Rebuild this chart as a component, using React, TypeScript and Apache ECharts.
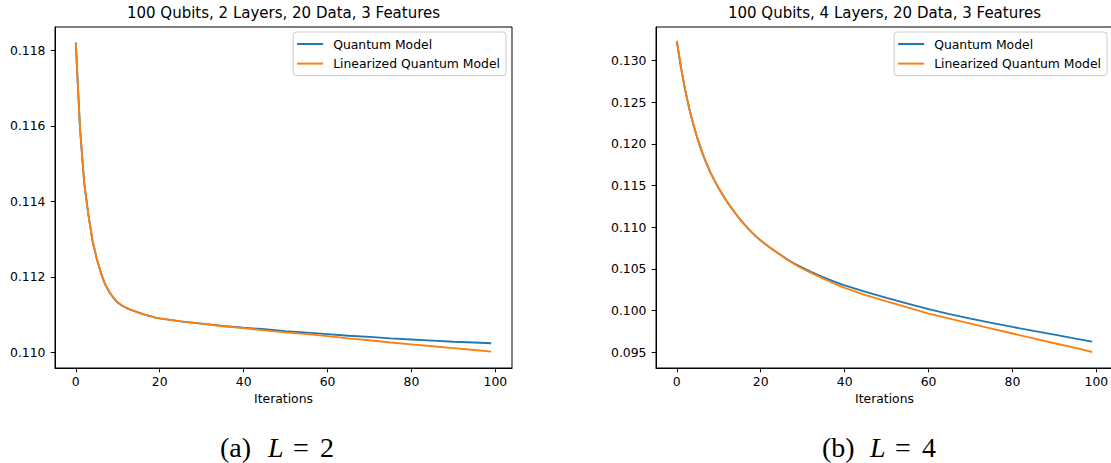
import { useEffect, useRef } from 'react';
import * as echarts from 'echarts';

const seriesNames = ['Quantum Model', 'Linearized Quantum Model'];
const titles = ['100 Qubits, 2 Layers, 20 Data, 3 Features', '100 Qubits, 4 Layers, 20 Data, 3 Features'];
const xTicks = [0, 20, 40, 60, 80, 100];
const leftYTicks = [0.110, 0.112, 0.114, 0.116, 0.118];
const rightYTicks = [0.095, 0.100, 0.105, 0.110, 0.115, 0.120, 0.125, 0.130];

const leftIterations = [0, 1, 2, 3, 4, 5, 6, 7, 8, 9, 10, 11, 12, 13, 14, 15, 16, 17, 18, 19, 20, 25, 30, 35, 40, 45, 50, 55, 60, 65, 70, 75, 80, 85, 90, 95, 99];
const leftQuantum = [0.11821, 0.11595, 0.11450, 0.11365, 0.11295, 0.11248, 0.11210, 0.11180, 0.11160, 0.11144, 0.11132, 0.11124, 0.11118, 0.11113, 0.11109, 0.11105, 0.11101, 0.11098, 0.11095, 0.11092, 0.11090, 0.11082, 0.11076, 0.11070, 0.11065, 0.11061, 0.11056, 0.11052, 0.11048, 0.11044, 0.11041, 0.11037, 0.11034, 0.11031, 0.11028, 0.11026, 0.11024];
const leftLinearized = [0.11821, 0.11595, 0.11450, 0.11365, 0.11295, 0.11248, 0.11210, 0.11180, 0.11160, 0.11144, 0.11132, 0.11124, 0.11118, 0.11113, 0.11109, 0.11105, 0.11101, 0.11098, 0.11095, 0.11092, 0.11090, 0.11082, 0.11076, 0.11069, 0.11064, 0.11058, 0.11053, 0.11048, 0.11043, 0.11037, 0.11032, 0.11026, 0.11021, 0.11016, 0.11011, 0.11006, 0.11002];

const rightIterations = [0, 1, 2, 3, 4, 5, 6, 7, 8, 9, 10, 11, 12, 13, 14, 15, 16, 17, 18, 19, 20, 22, 24, 26, 28, 30, 32, 34, 36, 38, 40, 45, 50, 55, 60, 65, 70, 75, 80, 85, 90, 95, 99];
const rightQuantum = [0.13237, 0.12920, 0.12650, 0.12420, 0.12225, 0.12055, 0.11905, 0.11775, 0.11660, 0.11560, 0.11470, 0.11385, 0.11305, 0.11235, 0.11165, 0.11100, 0.11040, 0.10985, 0.10933, 0.10885, 0.10840, 0.10762, 0.10695, 0.10625, 0.10565, 0.10512, 0.10465, 0.10420, 0.10378, 0.10338, 0.10302, 0.10225, 0.10152, 0.10082, 0.10016, 0.09957, 0.09902, 0.09852, 0.09803, 0.09756, 0.09710, 0.09663, 0.09627];
const rightLinearized = [0.13237, 0.12920, 0.12650, 0.12420, 0.12225, 0.12055, 0.11905, 0.11775, 0.11660, 0.11560, 0.11470, 0.11385, 0.11305, 0.11235, 0.11165, 0.11100, 0.11040, 0.10985, 0.10933, 0.10885, 0.10840, 0.10762, 0.10695, 0.10622, 0.10558, 0.10502, 0.10452, 0.10404, 0.10358, 0.10313, 0.10272, 0.10185, 0.10110, 0.10037, 0.09964, 0.09902, 0.09842, 0.09782, 0.09724, 0.09666, 0.09607, 0.09551, 0.09502];

const BLUE = '#1f77b4';
const ORANGE = '#ff7f0e';
const FONT = 'DejaVu Sans';
const SERIF = 'Liberation Serif';

function pairs(xs: number[], ys: number[]) {
  return xs.map((x, i) => [x, ys[i]]);
}

export default function App() {
  const ref = useRef<HTMLDivElement>(null);
  useEffect(() => {
    const chart = echarts.init(ref.current!, null, { renderer: 'svg' });

    const grid = (left: number) => ({
      left,
      top: 27,
      width: 457,
      height: 341,
      show: true,
      borderColor: '#000',
      borderWidth: 1,
      backgroundColor: 'transparent',
      containLabel: false,
      outerBoundsMode: 'none',
    });

    const xAxis = (gridIndex: number) => ({
      type: 'value',
      gridIndex,
      min: -4.95,
      max: 103.95,
      name: 'Iterations',
      nameLocation: 'middle',
      nameGap: 23,
      nameTextStyle: { fontFamily: FONT, fontSize: 12.4, color: '#000' },
      splitLine: { show: false },
      axisLine: { show: true, onZero: false, lineStyle: { color: '#000', width: 1 } },
      axisTick: { show: true, length: 4.3, customValues: xTicks, lineStyle: { color: '#000', width: 1 } },
      axisLabel: {
        show: true,
        customValues: xTicks,
        margin: 7.5,
        fontFamily: FONT,
        fontSize: 12.4,
        color: '#000',
        formatter: (v: number) => String(Math.round(v)),
      },
    });

    const yAxis = (gridIndex: number, min: number, max: number, ticks: number[]) => ({
      type: 'value',
      gridIndex,
      min,
      max,
      splitLine: { show: false },
      axisLine: { show: true, onZero: false, lineStyle: { color: '#000', width: 1 } },
      axisTick: { show: true, length: 4.3, customValues: ticks, lineStyle: { color: '#000', width: 1 } },
      axisLabel: {
        show: true,
        customValues: ticks,
        margin: 9.5,
        fontFamily: FONT,
        fontSize: 12.4,
        color: '#000',
        formatter: (v: number) => v.toFixed(3),
      },
    });

    const legend = (right: number) => ({
      orient: 'vertical',
      right,
      top: 32,
      data: seriesNames,
      selectedMode: false,
      icon: 'rect',
      itemWidth: 26,
      itemHeight: 2,
      itemGap: 5.6,
      padding: [5, 6, 5, 4],
      backgroundColor: 'rgba(255,255,255,0.8)',
      borderColor: '#cccccc',
      borderWidth: 1,
      borderRadius: 3,
      textStyle: { fontFamily: FONT, fontSize: 12.4, color: '#000', lineHeight: 14, padding: [0, 0, 0, 5] },
    });

    const line = (name: string, color: string, idx: number, data: number[][]) => ({
      name,
      type: 'line',
      xAxisIndex: idx,
      yAxisIndex: idx,
      data,
      showSymbol: false,
      symbol: 'none',
      color,
      lineStyle: { color, width: 1.85 },
      itemStyle: { color },
      emphasis: { disabled: true },
      silent: true,
    });

    const textEl = (text: string, x: number, y: number, size: number, family: string, align: string, italic = false) => ({
      type: 'text',
      x,
      y,
      silent: true,
      style: {
        text,
        fontSize: size,
        fontFamily: family,
        fontStyle: italic ? 'italic' : 'normal',
        fill: '#000',
        textAlign: align,
        textVerticalAlign: 'middle',
      },
    });

    const option = {
      animation: false,
      backgroundColor: '#fff',
      grid: [grid(55), grid(656)],
      xAxis: [xAxis(0), xAxis(1)],
      yAxis: [
        yAxis(0, 0.109584, 0.118623, leftYTicks),
        yAxis(1, 0.0931, 0.13405, rightYTicks),
      ],
      legend: [legend(605), legend(4)],
      series: [
        line(seriesNames[0], BLUE, 0, pairs(leftIterations, leftQuantum)),
        line(seriesNames[1], ORANGE, 0, pairs(leftIterations, leftLinearized)),
        line(seriesNames[0], BLUE, 1, pairs(rightIterations, rightQuantum)),
        line(seriesNames[1], ORANGE, 1, pairs(rightIterations, rightLinearized)),
      ],
      graphic: [
        textEl(titles[0], 283.5, 12.5, 15, FONT, 'center'),
        textEl(titles[1], 884.5, 12.5, 15, FONT, 'center'),
        textEl('(a)', 220, 447, 28, SERIF, 'left'),
        textEl('L', 268, 447, 28, SERIF, 'left', true),
        textEl('=', 293, 447, 28, SERIF, 'left'),
        textEl('2', 320, 447, 28, SERIF, 'left'),
        textEl('(b)', 822, 447, 28, SERIF, 'left'),
        textEl('L', 870, 447, 28, SERIF, 'left', true),
        textEl('=', 895, 447, 28, SERIF, 'left'),
        textEl('4', 922, 447, 28, SERIF, 'left'),
      ],
    };

    chart.setOption(option as any);
    return () => chart.dispose();
  }, []);

  return (
    <div
      ref={ref}
      style={{ position: 'absolute', left: 0, top: 0, width: 1111, height: 463, background: '#fff' }}
    />
  );
}
